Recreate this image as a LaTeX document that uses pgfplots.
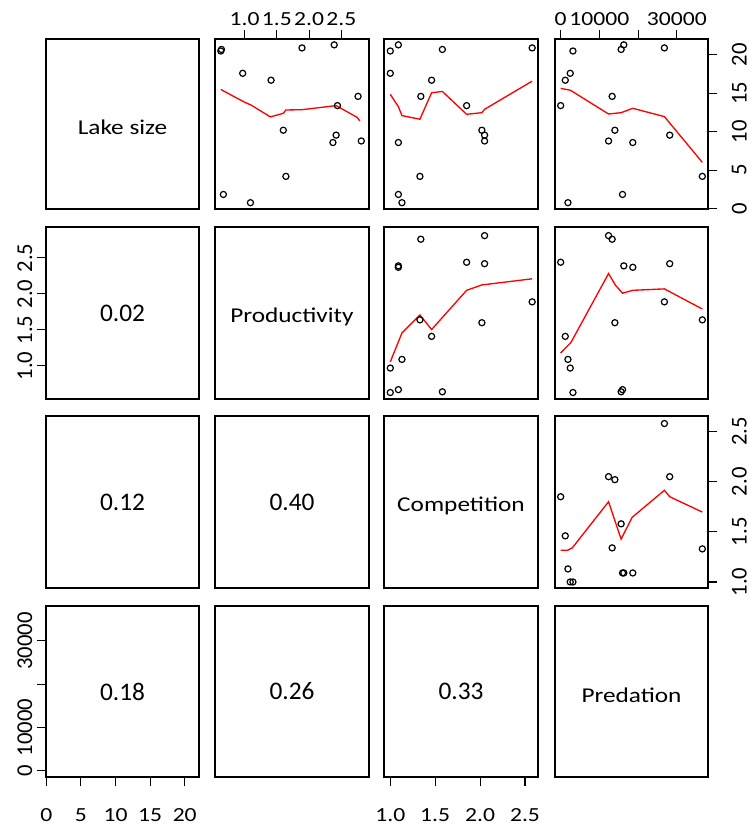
\documentclass[border=0pt]{standalone}
\usepackage{fontspec}
\setmainfont{Carlito}
\newfontfamily\labfont[FakeStretch=1.2]{Carlito}
\newfontfamily\htfont[FakeStretch=1.18]{Carlito}
\usepackage{pgfplots}
\usepackage{pgfplotstable}
\pgfplotsset{compat=1.18}

\pgfplotstableread{
size prod comp pred
20.5 0.63 1.00 3170
20.7 0.64 1.58 15620
21.3 2.39 1.09 16310
20.9 1.89 2.58 26800
17.6 0.97 1.00 2470
16.7 1.41 1.46 1190
14.6 2.76 1.34 13300
13.4 2.44 1.85 0
10.2 1.60 2.02 14000
9.56 2.42 2.05 28170
8.8 2.81 2.05 12370
8.6 2.37 1.09 18630
4.2 1.64 1.33 36600
1.85 0.67 1.09 15980
0.78 1.09 1.13 1880
}\lakes

\pgfplotsset{
  panel/.style={scale only axis, anchor=south west, xtick=\empty, ytick=\empty,
    axis line style={line width=0.9pt}, tick align=outside, major tick length=6.75pt,
    tick style={black, line width=0.8pt}, scaled ticks=false, clip=false},
  pts/.style={only marks, mark=o, mark size=2.3pt, mark options={line width=0.9pt, black}},
  lw/.style={red, line width=1pt, no marks},
  C1/.style={xmin=-0.04, xmax=22.06, width=114.75pt},
  C2/.style={xmin=0.54, xmax=2.93, width=115.5pt},
  C3/.style={xmin=0.93, xmax=2.645, width=115.5pt},
  C4/.style={xmin=-1464, xmax=38064, width=114.75pt},
  R1/.style={ymin=-0.04, ymax=22.06, height=127.5pt},
  R2/.style={ymin=0.54, ymax=2.93, height=129pt},
  R3/.style={ymin=0.94, ymax=2.655, height=129pt},
  R4/.style={ymin=-1464, ymax=38064, height=128.25pt},
  hfont/.style={font=\htfont\fontsize{15}{15}\selectfont},
  rfont/.style={font=\fontsize{17}{17}\selectfont},
  topticks/.style={xtick pos=upper, xticklabel pos=upper, xticklabel style={hfont}},
  bottomticks/.style={xtick pos=lower, xticklabel pos=lower, xticklabel shift=17pt, xticklabel style={hfont, inner sep=0pt}},
  leftticks/.style={ytick pos=left, yticklabel pos=left, yticklabel style={rfont, rotate=90, anchor=south}},
  rightticks/.style={ytick pos=right, yticklabel pos=right, yticklabel shift=11pt, yticklabel style={rfont, rotate=90, anchor=north, inner sep=0pt}},
}
\newcommand{\lab}[1]{\node[font=\labfont\fontsize{15.8}{15.8}\selectfont] at (rel axis cs:0.5,0.48) {#1};}
\newcommand{\cor}[1]{\node[font=\fontsize{19}{19}\selectfont] at (rel axis cs:0.5,0.5) {#1};}

\begin{document}
\begin{tikzpicture}
% ---------------- Row 1
\begin{axis}[panel, C1, R1, at={(34.5pt,464.25pt)}]
\lab{Lake size}
\end{axis}
\begin{axis}[panel, C2, R1, at={(161.25pt,464.25pt)}, topticks,
  xtick={1,1.5,2,2.5}, xticklabels={1.0,1.5,2.0,2.5}]
\addplot[lw] coordinates {(0.63,15.5) (0.985,13.9) (1.10,13.47) (1.40,11.93) (1.60,12.4) (1.64,12.83) (1.89,12.87) (2.42,13.4) (2.74,11.9) (2.79,11.4)};
\addplot[pts] table[x=prod, y=size] {\lakes};
\end{axis}
\begin{axis}[panel, C3, R1, at={(288pt,464.25pt)}]
\addplot[lw] coordinates {(1.0,14.86) (1.09,13.26) (1.13,12.1) (1.33,11.63) (1.46,15.07) (1.58,15.24) (1.85,12.27) (2.02,12.48) (2.05,12.92) (2.58,16.58)};
\addplot[pts] table[x=comp, y=size] {\lakes};
\end{axis}
\begin{axis}[panel, C4, R1, at={(416.25pt,464.25pt)}, topticks, rightticks,
  xtick={0,10000,20000,30000}, xticklabels={0,10000,,30000},
  ytick={0,5,10,15,20}, yticklabels={0,5,10,15,20}]
\addplot[lw] coordinates {(0,15.63) (2470,15.41) (12370,12.31) (15620,12.48) (18630,13.05) (26800,11.97) (36600,6.02)};
\addplot[pts] table[x=pred, y=size] {\lakes};
\end{axis}
% ---------------- Row 2
\begin{axis}[panel, C1, R2, at={(34.5pt,321.75pt)}, leftticks,
  ytick={1,1.5,2,2.5}, yticklabels={1.0,1.5,2.0,2.5}]
\cor{0.02}
\end{axis}
\begin{axis}[panel, C2, R2, at={(161.25pt,321.75pt)}]
\lab{Productivity}
\end{axis}
\begin{axis}[panel, C3, R2, at={(288pt,321.75pt)}]
\addplot[lw] coordinates {(1.0,1.056) (1.13,1.458) (1.33,1.708) (1.46,1.505) (1.85,2.05) (2.02,2.125) (2.58,2.21)};
\addplot[pts] table[x=comp, y=prod] {\lakes};
\end{axis}
\begin{axis}[panel, C4, R2, at={(416.25pt,321.75pt)}]
\addplot[lw] coordinates {(0,1.18) (2650,1.325) (12370,2.283) (14170,2.12) (15980,2.01) (18630,2.05) (26800,2.07) (36600,1.79)};
\addplot[pts] table[x=pred, y=prod] {\lakes};
\end{axis}
% ---------------- Row 3
\begin{axis}[panel, C1, R3, at={(34.5pt,180pt)}]
\cor{0.12}
\end{axis}
\begin{axis}[panel, C2, R3, at={(161.25pt,180pt)}]
\cor{0.40}
\end{axis}
\begin{axis}[panel, C3, R3, at={(288pt,180pt)}]
\lab{Competition}
\end{axis}
\begin{axis}[panel, C4, R3, at={(416.25pt,180pt)}, rightticks,
  ytick={1,1.5,2,2.5}, yticklabels={1.0,1.5,2.0,2.5}]
\addplot[lw] coordinates {(0,1.317) (1800,1.317) (3000,1.34) (12370,1.80) (15620,1.427) (18450,1.644) (26800,1.914) (28170,1.85) (36600,1.697)};
\addplot[pts] table[x=pred, y=comp] {\lakes};
\end{axis}
% ---------------- Row 4
\begin{axis}[panel, C1, R4, at={(34.5pt,38.25pt)}, leftticks, bottomticks,
  ytick={0,10000,20000,30000}, yticklabels={0,10000,,30000},
  xtick={0,5,10,15,20}, xticklabels={0,5,10,15,20}]
\cor{0.18}
\end{axis}
\begin{axis}[panel, C2, R4, at={(161.25pt,38.25pt)}]
\cor{0.26}
\end{axis}
\begin{axis}[panel, C3, R4, at={(288pt,38.25pt)}, bottomticks,
  xtick={1,1.5,2,2.5}, xticklabels={1.0,1.5,2.0,2.5}]
\cor{0.33}
\end{axis}
\begin{axis}[panel, C4, R4, at={(416.25pt,38.25pt)}]
\lab{Predation}
\end{axis}
\pgfresetboundingbox
\path (0pt,0pt) rectangle (560.25pt,621pt);
\end{tikzpicture}
\end{document}
